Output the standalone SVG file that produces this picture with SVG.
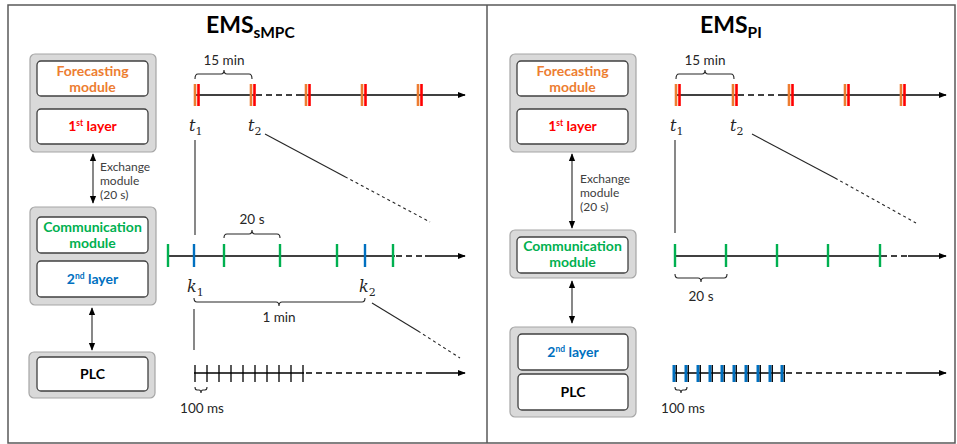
<svg xmlns="http://www.w3.org/2000/svg" width="957" height="444" viewBox="0 0 957 444">
<style>
.frame{fill:none;stroke:#595959;stroke-width:1.5}
.grp{fill:#d9d9d9;stroke:#a6a6a6;stroke-width:1.2}
.inner{fill:#fff;stroke:#404040;stroke-width:1.3}
.lbl{font-family:Lato,"Liberation Sans",sans-serif;font-weight:bold;font-size:14px;text-anchor:middle}
.title{font-family:Lato,"Liberation Sans",sans-serif;font-weight:bold;font-size:23px;fill:#000}
.txt{font-family:Lato,"Liberation Sans",sans-serif;font-size:13.5px;fill:#262626;text-anchor:middle}
.ex{font-family:Lato,"Liberation Sans",sans-serif;font-size:12px;fill:#404040}
.math{font-family:"DejaVu Serif","Liberation Serif",serif;font-style:italic;font-size:16px;fill:#262626}
.ln{stroke:#000;stroke-width:1.3;fill:none}
.dash{stroke:#000;stroke-width:1.3;stroke-dasharray:6 4;fill:none}
.thin{stroke:#262626;stroke-width:1.1;fill:none}
.thind{stroke:#262626;stroke-width:1.1;stroke-dasharray:3 3;fill:none}
.br{stroke:#262626;stroke-width:1.1;fill:none}
.or{stroke:#ed7d31;stroke-width:2.6}
.rd{stroke:#ff0000;stroke-width:2.6}
.gr{stroke:#00b050;stroke-width:2.4}
.bl{stroke:#0070c0;stroke-width:2.4}
.blw{stroke:#0070c0;stroke-width:3}
.tk{stroke:#000;stroke-width:1.3}
</style>
<defs>
<marker id="ah" viewBox="0 0 10 10" refX="9" refY="5" markerWidth="8" markerHeight="8" markerUnits="userSpaceOnUse" orient="auto"><path d="M0,1 L10,5 L0,9 Z" fill="#000"/></marker>
<marker id="as" viewBox="0 0 10 10" refX="9" refY="5" markerWidth="8" markerHeight="8" markerUnits="userSpaceOnUse" orient="auto-start-reverse"><path d="M0,1 L10,5 L0,9 Z" fill="#000"/></marker>
</defs>
<rect class="frame" x="8" y="5" width="947" height="438"/>
<line class="frame" x1="487" y1="5" x2="487" y2="443"/>

<!-- LEFT PANEL -->
<text class="title" x="206" y="33">EMS<tspan font-size="15.5" dy="5">sMPC</tspan></text>

<g id="L-forecast">
<rect class="grp" x="30" y="54" width="126" height="98" rx="5"/>
<rect class="inner" x="37" y="61" width="111" height="35" rx="4"/>
<text class="lbl" x="92.5" y="76" fill="#ed7d31">Forecasting</text>
<text class="lbl" x="92.5" y="92" fill="#ed7d31">module</text>
<rect class="inner" x="37" y="109" width="111" height="35" rx="4"/>
<text class="lbl" x="92.5" y="131" fill="#ff0000">1<tspan font-size="8.5" dy="-5">st</tspan><tspan dy="5"> layer</tspan></text>
</g>
<g id="L-comm">
<rect class="grp" x="30" y="207" width="126" height="98" rx="5"/>
<rect class="inner" x="37" y="217" width="111" height="36" rx="4"/>
<text class="lbl" x="92.5" y="232" fill="#00b050">Communication</text>
<text class="lbl" x="92.5" y="248" fill="#00b050">module</text>
<rect class="inner" x="37" y="261" width="111" height="36" rx="4"/>
<text class="lbl" x="92.5" y="284" fill="#0070c0">2<tspan font-size="8.5" dy="-5">nd</tspan><tspan dy="5"> layer</tspan></text>
</g>
<g id="L-plc">
<rect class="grp" x="29" y="352" width="126" height="46" rx="5"/>
<rect class="inner" x="37" y="357" width="111" height="34" rx="4"/>
<text class="lbl" x="92.5" y="379" fill="#000">PLC</text>
</g>

<!-- RIGHT PANEL -->
<text class="title" x="700" y="33">EMS<tspan font-size="15.5" dy="5">PI</tspan></text>
<g id="R-forecast">
<rect class="grp" x="510" y="54" width="126" height="98" rx="5"/>
<rect class="inner" x="517" y="61" width="111" height="35" rx="4"/>
<text class="lbl" x="572.5" y="76" fill="#ed7d31">Forecasting</text>
<text class="lbl" x="572.5" y="92" fill="#ed7d31">module</text>
<rect class="inner" x="517" y="109" width="111" height="35" rx="4"/>
<text class="lbl" x="572.5" y="131" fill="#ff0000">1<tspan font-size="8.5" dy="-5">st</tspan><tspan dy="5"> layer</tspan></text>
</g>
<g id="R-comm">
<rect class="grp" x="510" y="230" width="126" height="48" rx="5"/>
<rect class="inner" x="517" y="237" width="111" height="36" rx="4"/>
<text class="lbl" x="572.5" y="251" fill="#00b050">Communication</text>
<text class="lbl" x="572.5" y="267" fill="#00b050">module</text>
</g>
<g id="R-layer2-plc">
<rect class="grp" x="510" y="327" width="126" height="90" rx="5"/>
<rect class="inner" x="518" y="334" width="110" height="36" rx="4"/>
<text class="lbl" x="573" y="357" fill="#0070c0">2<tspan font-size="8.5" dy="-5">nd</tspan><tspan dy="5"> layer</tspan></text>
<rect class="inner" x="518" y="374" width="110" height="36" rx="4"/>
<text class="lbl" x="573" y="397" fill="#000">PLC</text>
</g>

<g id="connectors">
<line class="thin" x1="93" y1="154" x2="93" y2="203" marker-start="url(#as)" marker-end="url(#as)"/>
<line class="thin" x1="92" y1="308" x2="92" y2="350" marker-start="url(#as)" marker-end="url(#as)"/>
<line class="thin" x1="572" y1="154" x2="572" y2="228" marker-start="url(#as)" marker-end="url(#as)"/>
<line class="thin" x1="572" y1="281" x2="572" y2="323" marker-start="url(#as)" marker-end="url(#as)"/>
</g>
<text class="ex" x="100" y="171">Exchange</text>
<text class="ex" x="100" y="185">module</text>
<text class="ex" x="100" y="199">(20 s)</text>
<text class="ex" x="580" y="183">Exchange</text>
<text class="ex" x="580" y="197">module</text>
<text class="ex" x="580" y="211">(20 s)</text>

<!-- LEFT timeline 1 -->
<g id="L-tl1">
<line class="ln" x1="194" y1="95" x2="255" y2="95"/>
<line class="dash" x1="256" y1="95" x2="297" y2="95"/>
<line class="ln" x1="297" y1="95" x2="465" y2="95" marker-end="url(#ah)"/>
<line class="or" x1="195" y1="84" x2="195" y2="106"/><line class="rd" x1="198.5" y1="84" x2="198.5" y2="106"/>
<line class="or" x1="251" y1="84" x2="251" y2="106"/><line class="rd" x1="254.5" y1="84" x2="254.5" y2="106"/>
<line class="or" x1="306" y1="84" x2="306" y2="106"/><line class="rd" x1="309.5" y1="84" x2="309.5" y2="106"/>
<line class="or" x1="362" y1="84" x2="362" y2="106"/><line class="rd" x1="365.5" y1="84" x2="365.5" y2="106"/>
<line class="or" x1="418" y1="84" x2="418" y2="106"/><line class="rd" x1="421.5" y1="84" x2="421.5" y2="106"/>
<path class="br" d="M195,79 Q195,74 198,74 H221 Q224,74 224,70 Q224,74 227,74 H249 Q252,74 252,79"/>
<text class="txt" x="224" y="65">15 min</text>
<text class="math" x="189" y="131">t<tspan font-size="11" dy="4" font-style="normal">1</tspan></text>
<text class="math" x="248" y="131">t<tspan font-size="11" dy="4" font-style="normal">2</tspan></text>
<line class="thin" x1="195" y1="140" x2="195" y2="235"/>
<line class="thin" x1="265" y1="134" x2="345" y2="176.7"/>
<line class="thind" x1="345" y1="176.7" x2="430" y2="222"/>
</g>

<!-- LEFT timeline 2 -->
<g id="L-tl2">
<line class="ln" x1="168" y1="256" x2="395" y2="256"/>
<line class="dash" x1="396" y1="256" x2="425" y2="256"/>
<line class="ln" x1="425" y1="256" x2="465" y2="256" marker-end="url(#ah)"/>
<line class="gr" x1="168" y1="244" x2="168" y2="267"/>
<line class="bl" x1="194" y1="244" x2="194" y2="267"/>
<line class="gr" x1="224" y1="244" x2="224" y2="267"/>
<line class="gr" x1="280" y1="244" x2="280" y2="267"/>
<line class="gr" x1="337" y1="244" x2="337" y2="267"/>
<line class="bl" x1="365" y1="244" x2="365" y2="267"/>
<line class="gr" x1="393" y1="244" x2="393" y2="267"/>
<path class="br" d="M224,238 Q224,234 227,234 H249 Q252,234 252,230 Q252,234 255,234 H277 Q280,234 280,238"/>
<text class="txt" x="252" y="224">20 s</text>
<text class="math" x="187" y="292">k<tspan font-size="11" dy="4" font-style="normal">1</tspan></text>
<text class="math" x="359" y="292">k<tspan font-size="11" dy="4" font-style="normal">2</tspan></text>
<path class="br" d="M194,298 Q194,302 197,302 H276 Q279,302 279,306 Q279,302 282,302 H362 Q365,302 365,298"/>
<text class="txt" x="279" y="322">1 min</text>
<line class="thin" x1="194" y1="309" x2="194" y2="350"/>
<line class="thin" x1="372" y1="303" x2="418" y2="331"/>
<line class="thind" x1="418" y1="331" x2="460" y2="358"/>
</g>

<!-- LEFT timeline 3 -->
<g id="L-tl3">
<line class="ln" x1="194" y1="373" x2="304" y2="373"/>
<line class="dash" x1="306" y1="373" x2="428" y2="373"/>
<line class="ln" x1="428" y1="373" x2="465" y2="373" marker-end="url(#ah)"/>
<g class="tk">
<line x1="195" y1="365" x2="195" y2="382"/><line x1="207" y1="365" x2="207" y2="382"/>
<line x1="219" y1="365" x2="219" y2="382"/><line x1="231" y1="365" x2="231" y2="382"/>
<line x1="243" y1="365" x2="243" y2="382"/><line x1="255" y1="365" x2="255" y2="382"/>
<line x1="267" y1="365" x2="267" y2="382"/><line x1="279" y1="365" x2="279" y2="382"/>
<line x1="291" y1="365" x2="291" y2="382"/><line x1="303" y1="365" x2="303" y2="382"/>
</g>
<path class="br" d="M195,387 Q195,390 197,390 H199 Q201,390 201,393 Q201,390 203,390 H205 Q207,390 207,387"/>
<text class="txt" x="202" y="413">100 ms</text>
</g>

<!-- RIGHT timeline 1 -->
<g id="R-tl1">
<line class="ln" x1="675" y1="95" x2="737" y2="95"/>
<line class="dash" x1="738" y1="95" x2="778" y2="95"/>
<line class="ln" x1="778" y1="95" x2="946" y2="95" marker-end="url(#ah)"/>
<line class="or" x1="676" y1="84" x2="676" y2="106"/><line class="rd" x1="679.5" y1="84" x2="679.5" y2="106"/>
<line class="or" x1="733" y1="84" x2="733" y2="106"/><line class="rd" x1="736.5" y1="84" x2="736.5" y2="106"/>
<line class="or" x1="789" y1="84" x2="789" y2="106"/><line class="rd" x1="792.5" y1="84" x2="792.5" y2="106"/>
<line class="or" x1="845" y1="84" x2="845" y2="106"/><line class="rd" x1="848.5" y1="84" x2="848.5" y2="106"/>
<line class="or" x1="901" y1="84" x2="901" y2="106"/><line class="rd" x1="904.5" y1="84" x2="904.5" y2="106"/>
<path class="br" d="M676,79 Q676,74 679,74 H702 Q705,74 705,70 Q705,74 708,74 H731 Q734,74 734,79"/>
<text class="txt" x="705" y="65">15 min</text>
<text class="math" x="670" y="131">t<tspan font-size="11" dy="4" font-style="normal">1</tspan></text>
<text class="math" x="730" y="131">t<tspan font-size="11" dy="4" font-style="normal">2</tspan></text>
<line class="thin" x1="675" y1="140" x2="675" y2="233"/>
<line class="thin" x1="752" y1="134" x2="835" y2="178"/>
<line class="thind" x1="835" y1="178" x2="916" y2="223"/>
</g>

<!-- RIGHT timeline 2 -->
<g id="R-tl2">
<line class="ln" x1="675" y1="256" x2="880" y2="256"/>
<line class="dash" x1="881" y1="256" x2="908" y2="256"/>
<line class="ln" x1="908" y1="256" x2="946" y2="256" marker-end="url(#ah)"/>
<line class="gr" x1="675" y1="244" x2="675" y2="267"/>
<line class="gr" x1="726" y1="244" x2="726" y2="267"/>
<line class="gr" x1="777" y1="244" x2="777" y2="267"/>
<line class="gr" x1="828" y1="244" x2="828" y2="267"/>
<line class="gr" x1="880" y1="244" x2="880" y2="267"/>
<path class="br" d="M675,274 Q675,278 678,278 H698 Q701,278 701,282 Q701,278 704,278 H724 Q727,278 727,274"/>
<text class="txt" x="701" y="301">20 s</text>
</g>

<!-- RIGHT timeline 3 -->
<g id="R-tl3">
<line class="ln" x1="674" y1="373" x2="784" y2="373"/>
<line class="dash" x1="786" y1="373" x2="906" y2="373"/>
<line class="ln" x1="906" y1="373" x2="946" y2="373" marker-end="url(#ah)"/>
<g class="blw">
<line x1="674" y1="365" x2="674" y2="382"/><line x1="686" y1="365" x2="686" y2="382"/>
<line x1="698" y1="365" x2="698" y2="382"/><line x1="710" y1="365" x2="710" y2="382"/>
<line x1="722" y1="365" x2="722" y2="382"/><line x1="734" y1="365" x2="734" y2="382"/>
<line x1="746" y1="365" x2="746" y2="382"/><line x1="758" y1="365" x2="758" y2="382"/>
<line x1="770" y1="365" x2="770" y2="382"/><line x1="782" y1="365" x2="782" y2="382"/>
</g>
<g class="tk">
<line x1="676.3" y1="365" x2="676.3" y2="382"/><line x1="688.3" y1="365" x2="688.3" y2="382"/>
<line x1="700.3" y1="365" x2="700.3" y2="382"/><line x1="712.3" y1="365" x2="712.3" y2="382"/>
<line x1="724.3" y1="365" x2="724.3" y2="382"/><line x1="736.3" y1="365" x2="736.3" y2="382"/>
<line x1="748.3" y1="365" x2="748.3" y2="382"/><line x1="760.3" y1="365" x2="760.3" y2="382"/>
<line x1="772.3" y1="365" x2="772.3" y2="382"/><line x1="784.3" y1="365" x2="784.3" y2="382"/>
</g>
<path class="br" d="M675,387 Q675,390 677,390 H679 Q681,390 681,393 Q681,390 683,390 H685 Q687,390 687,387"/>
<text class="txt" x="683" y="413">100 ms</text>
</g>
</svg>
